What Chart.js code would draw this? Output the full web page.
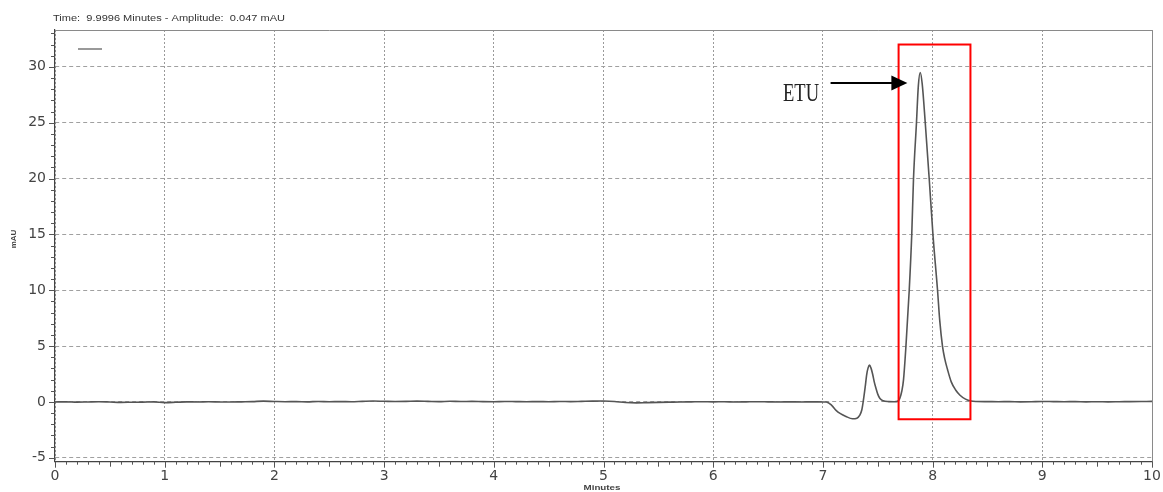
<!DOCTYPE html>
<html>
<head>
<meta charset="utf-8">
<script src="https://cdn.jsdelivr.net/npm/chart.js@4.4.1/dist/chart.umd.min.js"></script>
<style>
  html, body { margin: 0; padding: 0; background: #ffffff; }
  #wrap { position: relative; width: 1163px; height: 492px; }
</style>
</head>
<body>
<div id="wrap"><canvas id="chrom" width="1163" height="492"></canvas></div>
<script>
// Retention time (min) and detector response (mAU) of the chromatogram trace
const timeMin = [
  0.0, 0.1, 0.2, 0.3, 0.4, 0.5, 0.6, 0.7, 0.8, 0.9,
  1.0, 1.1, 1.2, 1.3, 1.4, 1.5, 1.6, 1.7, 1.8, 1.9,
  2.0, 2.1, 2.2, 2.3, 2.4, 2.5, 2.6, 2.7, 2.8, 2.9,
  3.0, 3.1, 3.2, 3.3, 3.4, 3.5, 3.6, 3.7, 3.8, 3.9,
  4.0, 4.1, 4.2, 4.3, 4.4, 4.5, 4.6, 4.7, 4.8, 4.9,
  5.0, 5.1, 5.2, 5.3, 5.4, 5.5, 5.6, 5.7, 5.8, 5.9,
  6.0, 6.1, 6.2, 6.3, 6.4, 6.5, 6.6, 6.7, 6.8, 6.9,
  7.0, 7.03, 7.08, 7.12, 7.16, 7.21, 7.27, 7.31, 7.335, 7.355,
  7.37, 7.385, 7.40, 7.412, 7.425, 7.438, 7.453, 7.468, 7.483, 7.50,
  7.52, 7.55, 7.60, 7.65, 7.68, 7.70, 7.72, 7.735, 7.757, 7.787,
  7.81, 7.826, 7.853, 7.87, 7.887, 7.905, 7.933, 7.969, 8.003, 8.045,
  8.065, 8.09, 8.11, 8.136, 8.17, 8.21, 8.25, 8.30, 8.35, 8.40,
  8.50, 8.60, 8.70, 8.80, 8.90, 9.00, 9.10, 9.20, 9.30, 9.40,
  9.50, 9.60, 9.70, 9.80, 9.90, 10.0
];
const absorbance = [
  0.00, 0.01, -0.02, 0.00, 0.02, -0.01, -0.04, -0.03, -0.02, 0.01,
  -0.06, -0.03, 0.01, 0.00, 0.02, 0.00, -0.01, 0.01, 0.03, 0.07,
  0.04, 0.02, 0.03, 0.01, 0.04, 0.02, 0.03, 0.02, 0.05, 0.08,
  0.06, 0.04, 0.05, 0.07, 0.05, 0.03, 0.06, 0.04, 0.05, 0.03,
  0.02, 0.04, 0.03, 0.02, 0.03, 0.02, 0.04, 0.03, 0.05, 0.07,
  0.08, 0.04, -0.05, -0.08, -0.06, -0.04, -0.02, 0.00, 0.01, 0.02,
  0.01, 0.02, 0.00, 0.01, 0.02, 0.01, 0.00, 0.01, 0.00, 0.01,
  0.00, 0.00, -0.30, -0.75, -1.05, -1.30, -1.50, -1.45, -1.20, -0.70,
  0.20, 1.30, 2.50, 3.05, 3.30, 3.05, 2.50, 1.80, 1.25, 0.70,
  0.30, 0.10, 0.03, 0.02, 0.05, 0.30, 1.00, 2.00, 5.00, 10.0,
  15.0, 20.0, 25.0, 28.3, 29.5, 28.5, 25.0, 20.0, 15.0, 10.0,
  7.30, 5.00, 3.90, 2.90, 1.80, 1.07, 0.60, 0.25, 0.08, 0.04,
  0.03, 0.02, 0.03, 0.01, 0.02, 0.04, 0.03, 0.02, 0.03, 0.01,
  0.02, 0.01, 0.02, 0.03, 0.04, 0.05
];

// Axis tick values
const xTickValues = [0, 1, 2, 3, 4, 5, 6, 7, 8, 9, 10];
const yTickValues = [-5, 0, 5, 10, 15, 20, 25, 30];

// Texts
const headerText = 'Time:  9.9996 Minutes - Amplitude:  0.047 mAU';
const xTitle = 'Minutes';
const yTitle = 'mAU';
const peakName = 'ETU';

// Highlight box around the ETU peak (minutes / mAU) and arrow target
const boxTime = [7.69, 8.345];
const boxAmp = [-1.55, 32.0];
const arrowTime = [7.07, 7.77];
const arrowAmp = 28.55;

const traceColor = '#555555';

// Draws the surrounding texts, frame, minor ticks, box and arrow
const decorations = {
  id: 'decorations',
  beforeDatasetsDraw(chart) {
    const { ctx, chartArea: a } = chart;
    ctx.save();
    // top and right frame
    ctx.strokeStyle = '#8a8a8a';
    ctx.lineWidth = 1;
    ctx.beginPath();
    ctx.moveTo(a.left, a.top + 0.5);
    ctx.lineTo(a.right + 0.5, a.top + 0.5);
    ctx.lineTo(a.right + 0.5, a.bottom);
    ctx.stroke();
    ctx.restore();
  },
  afterDraw(chart) {
    const { ctx, chartArea: a, scales: { x, y } } = chart;
    ctx.save();

    // minor ticks, y axis
    ctx.strokeStyle = '#555555';
    ctx.lineWidth = 1;
    ctx.beginPath();
    for (let v = -5; v <= 33; v += 1) {
      const py = Math.round(y.getPixelForValue(v)) + 0.5;
      const len = (v % 5 === 0) ? 6 : 4;
      ctx.moveTo(a.left - len, py);
      ctx.lineTo(a.left, py);
    }
    // minor ticks, x axis
    for (let i = 0; i <= 100; i++) {
      const px = Math.round(x.getPixelForValue(i / 10)) + 0.5;
      const len = (i % 10 === 0) ? 6 : (i % 5 === 0 ? 5 : 3);
      ctx.moveTo(px, a.bottom);
      ctx.lineTo(px, a.bottom + len);
    }
    ctx.stroke();

    // legend swatch
    ctx.strokeStyle = '#777777';
    ctx.lineWidth = 1.5;
    ctx.beginPath();
    ctx.moveTo(78, 49);
    ctx.lineTo(102, 49);
    ctx.stroke();

    // helper: draw text squeezed/stretched to a given width
    function fitText(txt, font, cx, cy, width, align, color) {
      ctx.font = font;
      ctx.fillStyle = color;
      ctx.textBaseline = 'middle';
      ctx.textAlign = 'left';
      const w = ctx.measureText(txt).width;
      const sx = width / w;
      ctx.save();
      const left = align === 'center' ? cx - width / 2 : cx;
      ctx.translate(left, cy);
      ctx.scale(sx, 1);
      ctx.fillText(txt, 0, 0);
      ctx.restore();
    }

    // header readout
    fitText(headerText, '8.5px "Liberation Sans", Arial, sans-serif', 53, 19, 232, 'left', '#333333');
    // axis titles
    fitText(xTitle, 'bold 8px "Liberation Sans", Arial, sans-serif', 602, 488, 37, 'center', '#444444');
    ctx.save();
    ctx.translate(14, 239);
    ctx.rotate(-Math.PI / 2);
    ctx.font = 'bold 8px "Liberation Sans", Arial, sans-serif';
    ctx.fillStyle = '#444444';
    ctx.textAlign = 'center';
    ctx.textBaseline = 'middle';
    ctx.fillText(yTitle, 0, 0);
    ctx.restore();

    // highlight box
    const bx0 = x.getPixelForValue(boxTime[0]);
    const bx1 = x.getPixelForValue(boxTime[1]);
    const by0 = y.getPixelForValue(boxAmp[1]);
    const by1 = y.getPixelForValue(boxAmp[0]);
    ctx.strokeStyle = '#ff0000';
    ctx.lineWidth = 2;
    ctx.strokeRect(bx0, by0, bx1 - bx0, by1 - by0);

    // arrow pointing at the ETU peak
    const ax0 = x.getPixelForValue(arrowTime[0]);
    const ax1 = x.getPixelForValue(arrowTime[1]);
    const ay = y.getPixelForValue(arrowAmp);
    ctx.strokeStyle = '#000000';
    ctx.fillStyle = '#000000';
    ctx.lineWidth = 2;
    ctx.beginPath();
    ctx.moveTo(ax0, ay);
    ctx.lineTo(ax1 - 14, ay);
    ctx.stroke();
    ctx.beginPath();
    ctx.moveTo(ax1, ay);
    ctx.lineTo(ax1 - 16, ay - 7.5);
    ctx.lineTo(ax1 - 16, ay + 7.5);
    ctx.closePath();
    ctx.fill();

    // peak label
    fitText(peakName, '25px "Liberation Serif", "Times New Roman", serif', 783, 94, 36, 'left', '#222222');

    ctx.restore();
  }
};

new Chart(document.getElementById('chrom'), {
  type: 'line',
  data: {
    datasets: [{
      data: timeMin.map((t, i) => ({ x: t, y: absorbance[i] })),
      borderColor: traceColor,
      borderWidth: 1.6,
      pointRadius: 0,
      fill: false,
      cubicInterpolationMode: 'monotone'
    }]
  },
  options: {
    responsive: false,
    animation: false,
    devicePixelRatio: 1,
    layout: { padding: { top: 30, right: 11, left: 0, bottom: 0 } },
    plugins: { legend: { display: false }, tooltip: { enabled: false } },
    scales: {
      x: {
        type: 'linear',
        min: 0,
        max: 10,
        afterBuildTicks(scale) { scale.ticks = xTickValues.map(v => ({ value: v })); },
        afterFit(scale) {
          scale.height = 30.3;
          scale.paddingRight = 0;
          scale.paddingLeft = 0;
        },
        grid: { color: '#9a9a9a', lineWidth: 1, drawTicks: false },
        border: { display: true, color: '#444444', width: 1.2, dash: [2, 2] },
        ticks: {
          padding: 6,
          color: '#444444',
          font: { family: '"DejaVu Sans", sans-serif', size: 14 },
          maxRotation: 0,
          callback: v => String(v)
        }
      },
      y: {
        type: 'linear',
        min: -5.35,
        max: 33.3,
        afterBuildTicks(scale) { scale.ticks = yTickValues.map(v => ({ value: v })); },
        afterFit(scale) { scale.width = 55; },
        grid: { color: '#a0a0a0', lineWidth: 1, drawTicks: false },
        border: { display: true, color: '#444444', width: 1.2, dash: [4, 3] },
        ticks: {
          padding: 9,
          color: '#444444',
          font: { family: '"DejaVu Sans", sans-serif', size: 14 },
          callback: v => String(v)
        }
      }
    }
  },
  plugins: [decorations]
});
</script>
</body>
</html>
